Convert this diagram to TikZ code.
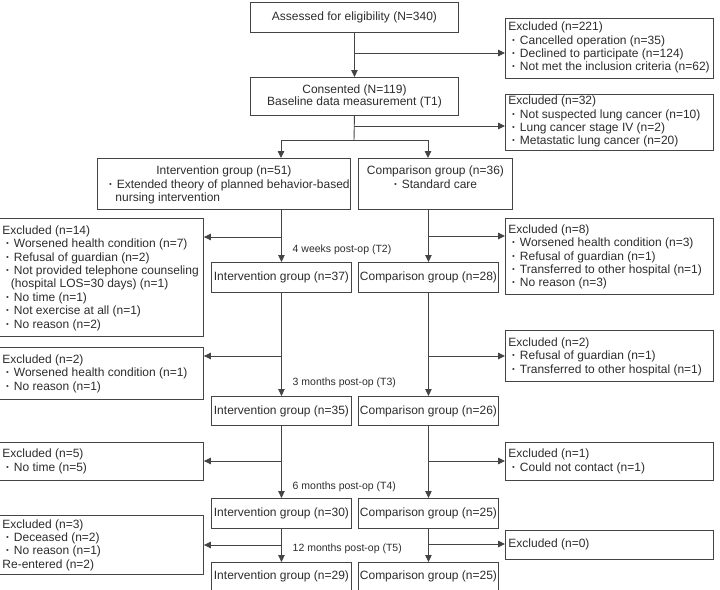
\documentclass[tikz,border=0pt]{standalone}
\usepackage{fontspec}
\setmainfont{Liberation Sans}
\usetikzlibrary{arrows.meta}
\definecolor{lncol}{HTML}{444444}
\definecolor{txcol}{HTML}{2C2C2C}
\newcommand{\xb}[4]{\parbox[c][#2pt][t]{#1pt}{\fontsize{12}{13.4}\selectfont\raggedright\leftskip=3pt\vspace*{#3pt}\strut #4}}
\newcommand{\bdot}{{\bfseries ·}}
\newcommand{\bl}{\hspace*{3.5pt}\bdot\hspace{4pt}}
\tikzset{
  bx/.style={draw=lncol, line width=0.9pt, inner sep=0pt, anchor=north west, text=txcol},
  cbx/.style={draw=lncol, line width=0.9pt, inner sep=0pt, anchor=north west, text=txcol,
    font=\fontsize{12}{13.4}\selectfont, align=center, minimum width=140pt},
  arr/.style={draw=lncol, line width=0.9pt, -{Triangle[length=7pt,width=6.5pt]}},
  lnk/.style={draw=lncol, line width=0.9pt},
  lab/.style={inner sep=0pt, anchor=west, text=txcol, font=\fontsize{10.5}{12}\selectfont}
}
\begin{document}
\begin{tikzpicture}[x=1pt,y=-1pt]
\useasboundingbox (0,0) rectangle (720,589);
% top boxes
\node[cbx, minimum width=208pt, minimum height=30pt] (assess) at (250,2) {Assessed for eligibility (N=340)};
\node[bx] (ex1) at (505,18) {\xb{208}{60}{2.9}{Excluded (n=221)\\\bl Cancelled operation (n=35)\\\bl Declined to participate (n=124)\\\bl Not met the inclusion criteria (n=62)}};
\node[cbx, minimum width=208pt, minimum height=38pt, font=\fontsize{12}{12.2}\selectfont] (consent) at (250,77) {Consented (N=119)\\Baseline data measurement (T1)};
\node[bx] (ex2) at (505,94) {\xb{208}{56}{0.8}{Excluded (n=32)\\\bl Not suspected lung cancer (n=10)\\\bl Lung cancer stage IV (n=2)\\\bl Metastatic lung cancer (n=20)}};
% group boxes
\node[bx] (int0) at (97,158) {\parbox[c][51pt][t]{253pt}{\fontsize{12}{13.4}\selectfont\parindent0pt\vspace*{6.9pt}\strut\makebox[253pt][c]{Intervention group (n=51)}\\\hspace*{11.4pt}\bdot\hspace{4pt}Extended theory of planned behavior-based\\\hspace*{18pt}nursing intervention}};
\node[bx] (com0) at (358,158) {\parbox[c][51pt][t]{154pt}{\fontsize{12}{13.4}\selectfont\centering\vspace*{6.9pt}\strut Comparison group (n=36)\\\bdot\hspace{4pt}Standard care\par}};
% excluded T2
\node[bx] (exL1) at (-1,218) {\xb{204}{118}{6.4}{Excluded (n=14)\\\bl Worsened health condition (n=7)\\\bl Refusal of guardian (n=2)\\\bl Not provided telephone counseling\\\hspace*{8.5pt}(hospital LOS=30 days) (n=1)\\\bl No time (n=1)\\\bl Not exercise at all (n=1)\\\bl No reason (n=2)}};
\node[bx] (exR1) at (505,218) {\xb{208}{76}{5.5}{Excluded (n=8)\\\bl Worsened health condition (n=3)\\\bl Refusal of guardian (n=1)\\\bl Transferred to other hospital (n=1)\\\bl No reason (n=3)}};
\node[cbx, minimum height=30pt] (int1) at (211,262) {Intervention group (n=37)};
\node[cbx, minimum height=30pt] (com1) at (358,262) {Comparison group (n=28)};
% excluded T3
\node[bx] (exL2) at (-1,347) {\xb{204}{52}{6.6}{Excluded (n=2)\\\bl Worsened health condition (n=1)\\\bl No reason (n=1)}};
\node[bx] (exR2) at (505,330) {\xb{208}{51}{6.6}{Excluded (n=2)\\\bl Refusal of guardian (n=1)\\\bl Transferred to other hospital (n=1)}};
\node[cbx, minimum height=29pt] (int2) at (211,396) {Intervention group (n=35)};
\node[cbx, minimum height=29pt] (com2) at (358,396) {Comparison group (n=26)};
% excluded T4
\node[bx] (exL3) at (-1,442) {\xb{204}{38}{5.9}{Excluded (n=5)\\\bl No time (n=5)}};
\node[bx] (exR3) at (505,442) {\xb{208}{38}{5.9}{Excluded (n=1)\\\bl Could not contact (n=1)}};
\node[cbx, minimum height=30pt] (int3) at (211,498) {Intervention group (n=30)};
\node[cbx, minimum height=30pt] (com3) at (358,498) {Comparison group (n=25)};
% excluded T5
\node[bx] (exL4) at (-1,515) {\xb{204}{59}{3.2}{Excluded (n=3)\\\bl Deceased (n=2)\\\bl No reason (n=1)\\Re-entered (n=2)}};
\node[bx] (exR4) at (505,530) {\xb{208}{29}{7.9}{Excluded (n=0)}};
\node[bx] (int4) at (211,562) {\parbox[c][31pt][t]{140pt}{\fontsize{12}{13.4}\selectfont\centering\vspace*{7.9pt}\strut Intervention group (n=29)\par}};
\node[bx] (com4) at (358,562) {\parbox[c][31pt][t]{140pt}{\fontsize{12}{13.4}\selectfont\centering\vspace*{7.9pt}\strut Comparison group (n=25)\par}};
% time labels
\node[lab] (t2) at (292.5,250) {4 weeks post-op (T2)};
\node[lab] (t3) at (292.5,383) {3 months post-op (T3)};
\node[lab] (t4) at (292.5,486.5) {6 months post-op (T4)};
\node[lab] (t5) at (292.5,549) {12 months post-op (T5)};
% connectors
\draw[arr] (assess.south) -- (consent.north);
\coordinate (b1) at (354,53);
\coordinate (b2) at (354,126);
\draw[arr] (b1) -- (b1 -| ex1.west);
\draw[arr] (b2) -- (b2 -| ex2.west);
\coordinate (sp) at (354,140);
\coordinate (spL) at (281,140);
\coordinate (spR) at (428,140);
\draw[lnk] (consent.south) -- (sp);
\draw[lnk] (spL) -- (spR);
\draw[arr] (spL) -- (spL |- int0.north);
\draw[arr] (spR) -- (spR |- com0.north);
\draw[arr] (int1.north |- int0.south) -- (int1.north);
\draw[arr] (com1.north |- com0.south) -- (com1.north);
\coordinate (l1) at (281,237);
\coordinate (r1) at (428,236);
\draw[arr] (l1) -- (l1 -| exL1.east);
\draw[arr] (r1) -- (r1 -| exR1.west);
\draw[arr] (int1) -- (int2);
\draw[arr] (com1) -- (com2);
\coordinate (l2) at (281,356);
\coordinate (r2) at (428,356);
\draw[arr] (l2) -- (l2 -| exL2.east);
\draw[arr] (r2) -- (r2 -| exR2.west);
\draw[arr] (int2) -- (int3);
\draw[arr] (com2) -- (com3);
\coordinate (l3) at (281,461);
\coordinate (r3) at (428,461);
\draw[arr] (l3) -- (l3 -| exL3.east);
\draw[arr] (r3) -- (r3 -| exR3.west);
\draw[arr] (int3) -- (int3.south |- int4.north);
\draw[arr] (com3) -- (com3.south |- com4.north);
\coordinate (l4) at (281,545);
\coordinate (r4) at (428,544);
\draw[arr] (l4) -- (l4 -| exL4.east);
\draw[arr] (r4) -- (r4 -| exR4.west);
\end{tikzpicture}
\end{document}
